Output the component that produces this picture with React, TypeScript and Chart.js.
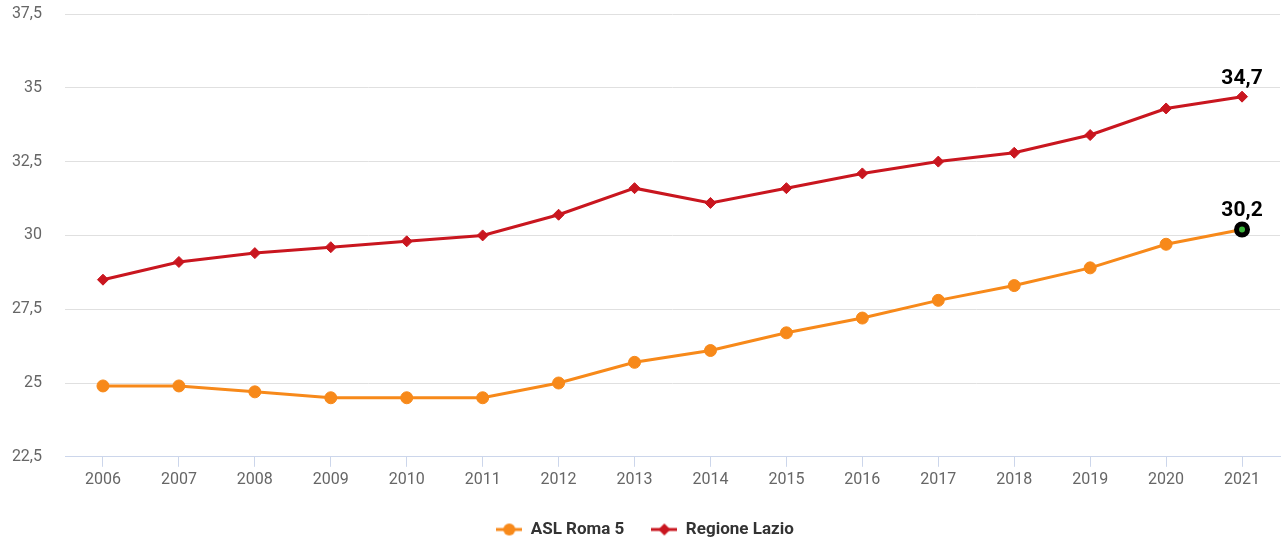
import React, { useEffect, useRef } from "react";
import { Chart, registerables } from "chart.js";

Chart.register(...registerables);

const years = ["2006","2007","2008","2009","2010","2011","2012","2013","2014","2015","2016","2017","2018","2019","2020","2021"];
const aslRoma5 = [24.9,24.9,24.7,24.5,24.5,24.5,25.0,25.7,26.1,26.7,27.2,27.8,28.3,28.9,29.7,30.2];
const regioneLazio = [28.5,29.1,29.4,29.6,29.8,30.0,30.7,31.6,31.1,31.6,32.1,32.5,32.8,33.4,34.3,34.7];
const seriesNames = ["ASL Roma 5", "Regione Lazio"];

const ORANGE = "#f7891a";
const RED = "#c9161f";
const GREEN = "#3ab53a";

function legendIcon(color: string, kind: "circle" | "diamond") {
  const c = document.createElement("canvas");
  c.width = 26;
  c.height = 16;
  const ctx = c.getContext("2d")!;
  ctx.strokeStyle = color;
  ctx.lineWidth = 3;
  ctx.beginPath();
  ctx.moveTo(0, 8);
  ctx.lineTo(26, 8);
  ctx.stroke();
  ctx.fillStyle = color;
  ctx.beginPath();
  if (kind === "circle") {
    ctx.arc(13, 8, 6, 0, Math.PI * 2);
  } else {
    ctx.moveTo(13, 2);
    ctx.lineTo(19, 8);
    ctx.lineTo(13, 14);
    ctx.lineTo(7, 8);
    ctx.closePath();
  }
  ctx.fill();
  return c;
}

const fmt = (v: number) => v.toFixed(1).replace(".", ",");

export default function App() {
  const ref = useRef<HTMLCanvasElement>(null);
  useEffect(() => {
    if (!ref.current) return;
    const n = years.length;
    const orangeBg = aslRoma5.map((_, i) => (i === n - 1 ? GREEN : ORANGE));
    const orangeBorder = aslRoma5.map((_, i) => (i === n - 1 ? "#000" : ORANGE));
    const orangeBW = aslRoma5.map((_, i) => (i === n - 1 ? 5 : 1));
    const orangeR = aslRoma5.map((_, i) => (i === n - 1 ? 5.5 : 6));

    const lastLabels = {
      id: "lastLabels",
      afterDatasetsDraw(chart: any) {
        const ctx = chart.ctx;
        ctx.save();
        ctx.font = "bold 21px Roboto";
        ctx.fillStyle = "#000";
        ctx.textAlign = "center";
        ctx.textBaseline = "alphabetic";
        chart.data.datasets.forEach((ds: any, di: number) => {
          const meta = chart.getDatasetMeta(di);
          const pt = meta.data[meta.data.length - 1];
          const v = ds.data[ds.data.length - 1];
          ctx.fillText(fmt(v), pt.x, pt.y - 13);
        });
        ctx.restore();
      },
    };

    const chart = new Chart(ref.current, {
      type: "line",
      data: {
        labels: years,
        datasets: [
          {
            label: seriesNames[0],
            data: aslRoma5,
            borderColor: ORANGE,
            backgroundColor: ORANGE,
            borderWidth: 3,
            pointStyle: "circle",
            pointRadius: orangeR,
            pointBackgroundColor: orangeBg,
            pointBorderColor: orangeBorder,
            pointBorderWidth: orangeBW,
            tension: 0,
          } as any,
          {
            label: seriesNames[1],
            data: regioneLazio,
            borderColor: RED,
            backgroundColor: RED,
            borderWidth: 3,
            pointStyle: "rectRot",
            pointRadius: 5.5,
            pointBackgroundColor: RED,
            pointBorderColor: RED,
            pointBorderWidth: 1,
            tension: 0,
          },
        ],
      },
      options: {
        animation: false,
        responsive: false,
        maintainAspectRatio: false,
        layout: { autoPadding: false, padding: { left: 10, right: 7, top: 0, bottom: -5 } },
        plugins: {
          tooltip: { enabled: false },
          legend: {
            position: "bottom",
            labels: {
              usePointStyle: true,
              pointStyleWidth: 26,
              boxHeight: 16,
              padding: 27,
              color: "#333",
              font: { family: "Roboto", size: 17, weight: "bold" },
              generateLabels: () => [
                { text: seriesNames[0], pointStyle: legendIcon(ORANGE, "circle"), fillStyle: ORANGE, strokeStyle: ORANGE, lineWidth: 0, datasetIndex: 0, hidden: false, fontColor: "#333" } as any,
                { text: seriesNames[1], pointStyle: legendIcon(RED, "diamond"), fillStyle: RED, strokeStyle: RED, lineWidth: 0, datasetIndex: 1, hidden: false, fontColor: "#333" } as any,
              ],
            },
          },
        },
        scales: {
          x: {
            offset: true,
            border: { display: true, color: "#ccd6eb", width: 1 },
            grid: { display: true, drawOnChartArea: false, drawTicks: true, tickLength: 10, color: "#ccd6eb", offset: false },
            ticks: { color: "#666", font: { family: "Roboto", size: 16 }, padding: 4, maxRotation: 0 },
          },
          y: {
            min: 22.5,
            max: 37.5,
            border: { display: false },
            grid: { color: "#e0e0e0", drawTicks: false, lineWidth: 1 },
            afterFit: (scale: any) => {
              scale.width = 55;
              scale.paddingTop = 14;
              scale.paddingBottom = 0;
            },
            ticks: {
              stepSize: 2.5,
              padding: 23,
              color: "#666",
              font: { family: "Roboto", size: 16 },
              callback: (v: any) => {
                const num = Number(v);
                return Number.isInteger(num) ? String(num) : fmt(num);
              },
            },
          } as any,
        },
      },
      plugins: [lastLabels],
    });
    return () => chart.destroy();
  }, []);
  return (
    <div style={{ position: "fixed", left: 0, top: 0, width: 1287, height: 543 }}>
      <canvas ref={ref} width={1287} height={543} style={{ width: 1287, height: 543 }} />
    </div>
  );
}
